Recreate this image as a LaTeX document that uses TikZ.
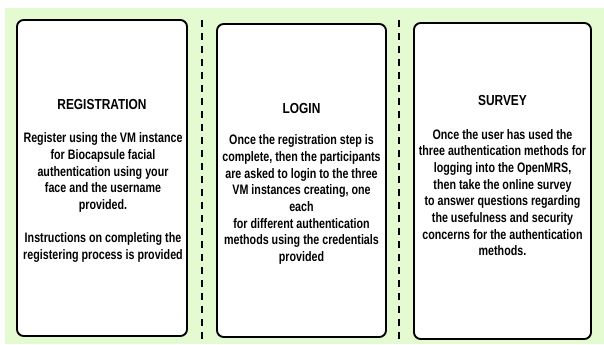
\documentclass[tikz,border=0pt]{standalone}
\usepackage{fontspec}
\setmainfont{Liberation Sans}[FakeStretch=0.78]
\newfontfamily\titlefont{Liberation Sans}[FakeStretch=0.82]
\usepackage{tikz}
\usetikzlibrary{positioning, fit}
\definecolor{panelgreen}{RGB}{228,250,208}

\begin{document}
\begin{tikzpicture}[x=0.75pt, y=-0.75pt,
  stepbox/.style={draw=black, line width=1.4pt, rounded corners=5pt, fill=white, inner sep=0pt},
  steptitle/.style={font=\titlefont\bfseries\fontsize{10.9}{13}\selectfont},
  steptext/.style={font=\bfseries\fontsize{10.3}{12.5}\selectfont, align=center},
  divider/.style={line width=1.5pt, dash pattern=on 5.25pt off 4.5pt}]
  \useasboundingbox (0,0) rectangle (604,344);
  \fill[panelgreen] (5,8) rectangle (604,344);
  % the three steps
  \node[stepbox, fit={(17,20) (187,336)}] (regbox) {};
  \node[stepbox, fit={(217,24) (386,337)}] (loginbox) {};
  \node[stepbox, fit={(414,23) (591,339)}] (surveybox) {};
  % dashed dividers
  \coordinate (divA) at (202,20);
  \coordinate (divB) at (399,20);
  \draw[divider] (divA) -- (divA |- 0,344);
  \draw[divider] (divB) -- (divB |- 0,344);
  % titles and texts
  \node[steptitle] (regtitle) at (102,104) {REGISTRATION};
  \node[steptext] (regtext) at (103,197.5) {Register using the VM instance\\for Biocapsule facial\\authentication using your\\face and the username\\provided.\\[12.5pt]Instructions on completing the\\registering process is provided};
  \node[steptitle] (logintitle) at (301.5,108) {LOGIN};
  \node[steptext] (logintext) at (301.5,199.5) {Once the registration step is\\complete, then the participants\\are asked to login to the three\\VM instances creating, one\\each\\for different authentication\\methods using the credentials\\provided};
  \node[steptitle] (surveytitle) at (502.5,100) {SURVEY};
  \node[steptext] (surveytext) at (502.5,192.5) {Once the user has used the\\three authentication methods for\\logging into the OpenMRS,\\then take the online survey\\to answer questions regarding\\the usefulness and security\\concerns for the authentication\\methods.};
\end{tikzpicture}
\end{document}
